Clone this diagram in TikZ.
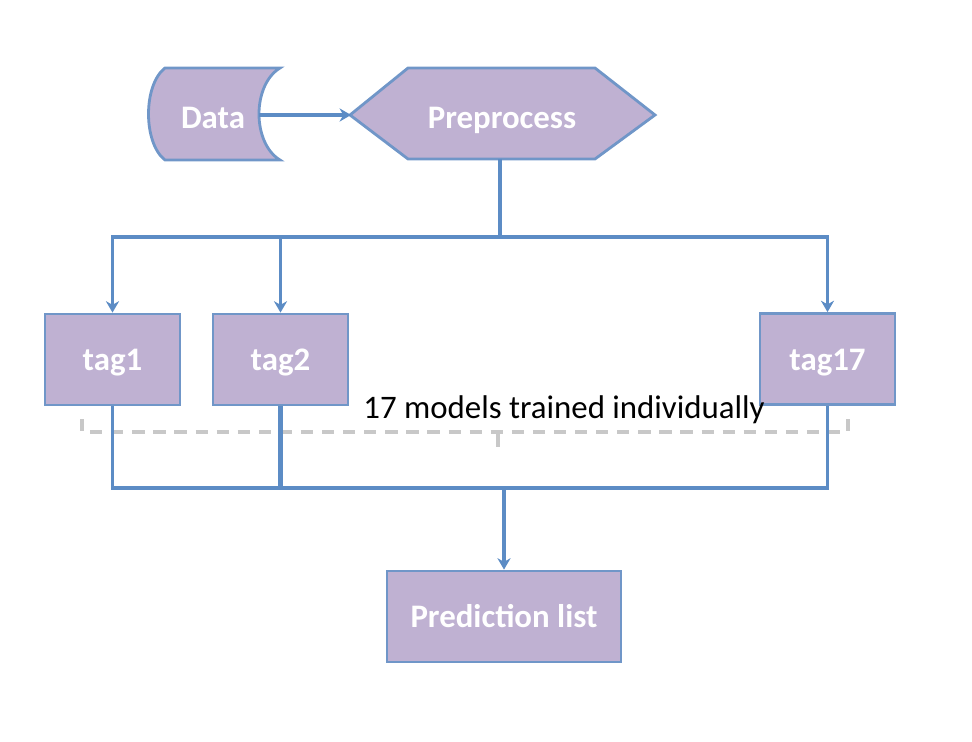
\documentclass[tikz,border=0pt]{standalone}
\usepackage{fontspec}
\setmainfont{Carlito}
\usetikzlibrary{arrows.meta}
\definecolor{boxfill}{RGB}{191,177,210}
\definecolor{boxline}{RGB}{112,150,200}
\definecolor{conn}{RGB}{92,140,197}
\definecolor{dashgray}{RGB}{200,200,200}
\begin{document}
\begin{tikzpicture}[x=0.02cm,y=-0.02cm,
  lbl/.style={text=white,font=\fontsize{18.7}{22}\selectfont\bfseries,text height=13pt,text depth=0pt},
  tagbox/.style={draw=boxline,line width=1.6pt,fill=boxfill,minimum width=2.7cm,minimum height=1.82cm,inner sep=0pt,lbl},
  shapeline/.style={draw=boxline,line width=1.6pt,fill=boxfill},
  wire/.style={draw=conn,line width=2pt},
  thickwire/.style={draw=conn,line width=2.7pt},
  tip/.style={-{Stealth[length=6.5pt,width=7.5pt]}}
]
\useasboundingbox (0,0) rectangle (972,742);
% Data shape
\path[shapeline] (165,68) -- (280,68) .. controls (252,85) and (252,143) .. (280,160) -- (165,160) .. controls (143,143) and (143,85) .. (165,68) -- cycle;
\node[lbl] (data) at (213,117) {Data};
\coordinate (dataR) at (259,115);
% Preprocess hexagon
\path[shapeline] (350,115) -- (408,68) -- (595,68) -- (655,115) -- (595,159) -- (408,159) -- cycle;
\node[lbl] (pre) at (502,117) {Preprocess};
\coordinate (preL) at (351,115);
\coordinate (preB) at (500,159);
% tag boxes
\node[tagbox] (tag1) at (112.5,359.5) {tag1};
\node[tagbox] (tag2) at (280.5,359.5) {tag2};
\node[tagbox] (tag17) at (827.5,359) {tag17};
\node[tagbox,minimum width=4.68cm] (pred) at (504,616.5) {Prediction list};
% label
\node[font=\fontsize{18.7}{22}\selectfont,text=black,inner sep=0pt] (note) at (564,410) {17 models trained individually};
% dashed brace
\draw[dashgray,line width=2.2pt,dash pattern=on 7pt off 5pt] (82,419) -- (82,432) -- (848,432) -- (848,419);
\draw[dashgray,line width=2.2pt] (498,432) -- (498,447);
% connectors
\draw[wire,tip] (dataR) -- (preL);
\coordinate (split) at (500,237);
\draw[thickwire] (preB) -- (split);
\draw[wire,tip] (split) -| (tag1.north);
\draw[wire,tip] (split) -| (tag2.north);
\draw[wire,tip] (split) -| (tag17.north);
\coordinate (merge) at (504,488);
\draw[wire] (tag1.south) |- (merge);
\draw[wire] (tag17.south) |- (merge);
\draw[thickwire] (tag2.south) |- (merge);
\draw[thickwire,tip] (merge) -- (pred.north);
\end{tikzpicture}
\end{document}
